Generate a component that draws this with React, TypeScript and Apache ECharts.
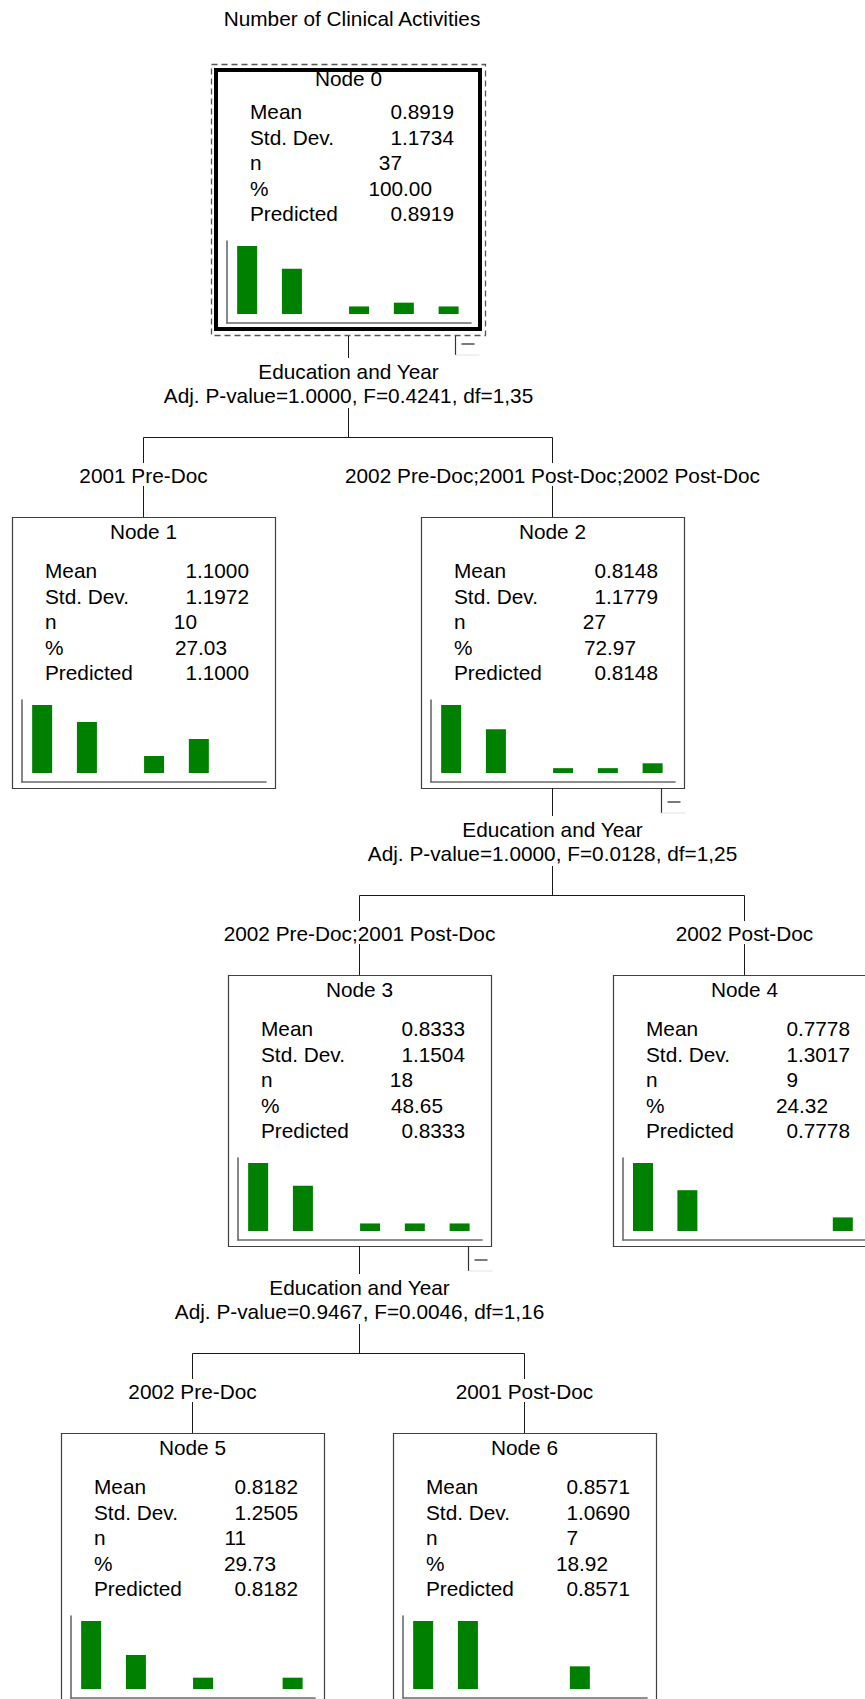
import React, { useEffect, useRef } from "react";
import * as echarts from "echarts";

// ---------- data ----------
const chartTitle = "Number of Clinical Activities";
const nodeNames = ["Node 0", "Node 1", "Node 2", "Node 3", "Node 4", "Node 5", "Node 6"];
const nodeMeans = [0.8919, 1.1, 0.8148, 0.8333, 0.7778, 0.8182, 0.8571];
const nodeStdDevs = [1.1734, 1.1972, 1.1779, 1.1504, 1.3017, 1.2505, 1.069];
const nodeN = [37, 10, 27, 18, 9, 11, 7];
const nodePercents = [100, 27.03, 72.97, 48.65, 24.32, 29.73, 18.92];
const nodePredicted = [0.8919, 1.1, 0.8148, 0.8333, 0.7778, 0.8182, 0.8571];
const rowLabels = ["Mean", "Std. Dev.", "n", "%", "Predicted"];

// histogram of number of clinical activities (values 0..4) per node
const activityValues = [0, 1, 2, 3, 4];
const histBinPositions = [0, 1, 2.5, 3.5, 4.5];
const histCounts = [
  [18, 12, 2, 3, 2],
  [4, 3, 1, 2, 0],
  [14, 9, 1, 1, 2],
  [9, 6, 1, 1, 1],
  [5, 3, 0, 0, 1],
  [6, 3, 1, 0, 1],
  [3, 3, 0, 1, 0],
];

// splits
const splitParents = [0, 2, 3];
const splitChildren = [[1, 2], [3, 4], [5, 6]];
const splitVariables = ["Education and Year", "Education and Year", "Education and Year"];
const splitStats = [
  "Adj. P-value=1.0000, F=0.4241, df=1,35",
  "Adj. P-value=1.0000, F=0.0128, df=1,25",
  "Adj. P-value=0.9467, F=0.0046, df=1,16",
];
const branchLabels = [
  ["2001 Pre-Doc", "2002 Pre-Doc;2001 Post-Doc;2002 Post-Doc"],
  ["2002 Pre-Doc;2001 Post-Doc", "2002 Post-Doc"],
  ["2002 Pre-Doc", "2001 Post-Doc"],
];

// ---------- layout ----------
const W = 865;
const H = 1699;
const BOX_W = 263;
const BOX_H = 271;
const nodeBoxes = [
  [215, 69],
  [12, 517],
  [421, 517],
  [228, 975],
  [613, 975],
  [61, 1433],
  [393, 1433],
];
const FONT = '20.8px "Liberation Sans", Arial, Helvetica, sans-serif';
const origin = (i: number) => (i === 0 ? [217, 58] : nodeBoxes[i]);
const boxBottom = (i: number) => (i === 0 ? 330 : nodeBoxes[i][1] + BOX_H);
const centerX = (i: number) => origin(i)[0] + 131.5;

function txt(text: string, x: number, y: number, align = "center") {
  return {
    type: "text",
    silent: true,
    style: {
      text,
      x,
      y,
      font: FONT,
      fill: "#000",
      textAlign: align,
      align,
      textVerticalAlign: "middle",
      verticalAlign: "middle",
    },
  };
}
function ln(x1: number, y1: number, x2: number, y2: number, color = "#1a1a1a", w = 1) {
  return {
    type: "line",
    silent: true,
    shape: { x1, y1, x2, y2 },
    style: { stroke: color, lineWidth: w },
  };
}

function buildOption() {
  const elements: any[] = [];
  elements.push(txt(chartTitle, 352, 18.5));

  // node boxes and text
  nodeNames.forEach((name, i) => {
    const [bx, by] = nodeBoxes[i];
    const [ox, oy] = origin(i);
    if (i === 0) {
      elements.push({
        type: "rect",
        silent: true,
        shape: { x: 211.5, y: 64.5, width: 274, height: 271 },
        style: { fill: "none", stroke: "#555", lineWidth: 1.3, lineDash: [6, 4] },
      });
      elements.push({
        type: "rect",
        silent: true,
        shape: { x: 216, y: 70, width: 264, height: 259 },
        style: { fill: "none", stroke: "#000", lineWidth: 4 },
      });
    } else {
      elements.push({
        type: "rect",
        silent: true,
        shape: { x: bx + 0.5, y: by + 0.5, width: BOX_W, height: BOX_H },
        style: { fill: "none", stroke: "#404040", lineWidth: 1.2 },
      });
    }
    elements.push(txt(name, ox + 131.5, i === 0 ? 78.5 : oy + 14));
    const rowY = [53, 79, 104.5, 130, 155];
    rowLabels.forEach((lab, r) => {
      elements.push(txt(lab, ox + 33, oy + rowY[r], "left"));
    });
    elements.push(txt(nodeMeans[i].toFixed(4), ox + 237, oy + rowY[0], "right"));
    elements.push(txt(nodeStdDevs[i].toFixed(4), ox + 237, oy + rowY[1], "right"));
    elements.push(txt(String(nodeN[i]), ox + 185, oy + rowY[2], "right"));
    elements.push(txt(nodePercents[i].toFixed(2), ox + 215, oy + rowY[3], "right"));
    elements.push(txt(nodePredicted[i].toFixed(4), ox + 237, oy + rowY[4], "right"));
  });

  // splits
  splitParents.forEach((p, s) => {
    const B = boxBottom(p);
    const cx = centerX(p);
    elements.push(ln(cx, p === 0 ? 336 : B, cx, B + 28));
    elements.push(txt(splitVariables[s], cx, B + 41.5));
    elements.push(txt(splitStats[s], cx, B + 65.5));
    elements.push(ln(cx, B + 78, cx, B + 107.5));
    const [c1, c2] = splitChildren[s];
    elements.push(ln(centerX(c1), B + 107.5, centerX(c2), B + 107.5));
    splitChildren[s].forEach((c, k) => {
      const ccx = centerX(c);
      elements.push(ln(ccx, B + 107.5, ccx, B + 133));
      elements.push(txt(branchLabels[s][k], ccx, B + 145));
      elements.push(ln(ccx, B + 156, ccx, nodeBoxes[c][1]));
    });
    // collapse icon
    const ix = nodeBoxes[p][0] + 240.5;
    elements.push(ln(ix, p === 0 ? 336 : B, ix, B + 25, "#333", 1.2));
    elements.push(ln(ix, B + 25, ix + 24, B + 25, "#e2e2e2", 1));
    elements.push(ln(ix + 6, B + 14, ix + 19, B + 14, "#7a7a7a", 2));
  });

  const grid: any[] = [];
  const xAxis: any[] = [];
  const yAxis: any[] = [];
  const series: any[] = [];
  const axisLineStyle = { color: "#6a6a6a", width: 1.6 };
  histCounts.forEach((counts, i) => {
    const [ox, oy] = origin(i);
    const M = Math.max(...counts);
    grid.push({ left: ox + 10, top: oy + 183, width: 244, height: 82, containLabel: false });
    xAxis.push({
      gridIndex: i,
      type: "value",
      min: -0.45,
      max: 5.0,
      axisLine: { show: true, onZero: false, lineStyle: axisLineStyle },
      axisTick: { show: false },
      axisLabel: { show: false },
      splitLine: { show: false },
    });
    yAxis.push({
      gridIndex: i,
      type: "value",
      min: (-M * 9) / 68,
      max: (M * 73) / 68,
      axisLine: { show: true, onZero: false, lineStyle: axisLineStyle },
      axisTick: { show: false },
      axisLabel: { show: false },
      splitLine: { show: false },
    });
    series.push({
      type: "bar",
      name: nodeNames[i],
      xAxisIndex: i,
      yAxisIndex: i,
      barWidth: 20,
      silent: true,
      itemStyle: { color: "#008000" },
      data: activityValues
        .map((v, k) => ({ value: [histBinPositions[k], counts[k]], name: String(v) }))
        .filter((d) => d.value[1] > 0),
    });
  });

  return {
    animation: false,
    backgroundColor: "#fff",
    grid,
    xAxis,
    yAxis,
    series,
    graphic: { elements },
  };
}

export default function App() {
  const ref = useRef<HTMLDivElement>(null);
  useEffect(() => {
    if (!ref.current) return;
    const chart = echarts.init(ref.current, undefined, { renderer: "svg", width: W, height: H });
    chart.setOption(buildOption() as any);
    return () => chart.dispose();
  }, []);
  return (
    <div
      ref={ref}
      style={{ position: "absolute", left: 0, top: 0, width: W, height: H, background: "#fff" }}
    />
  );
}
